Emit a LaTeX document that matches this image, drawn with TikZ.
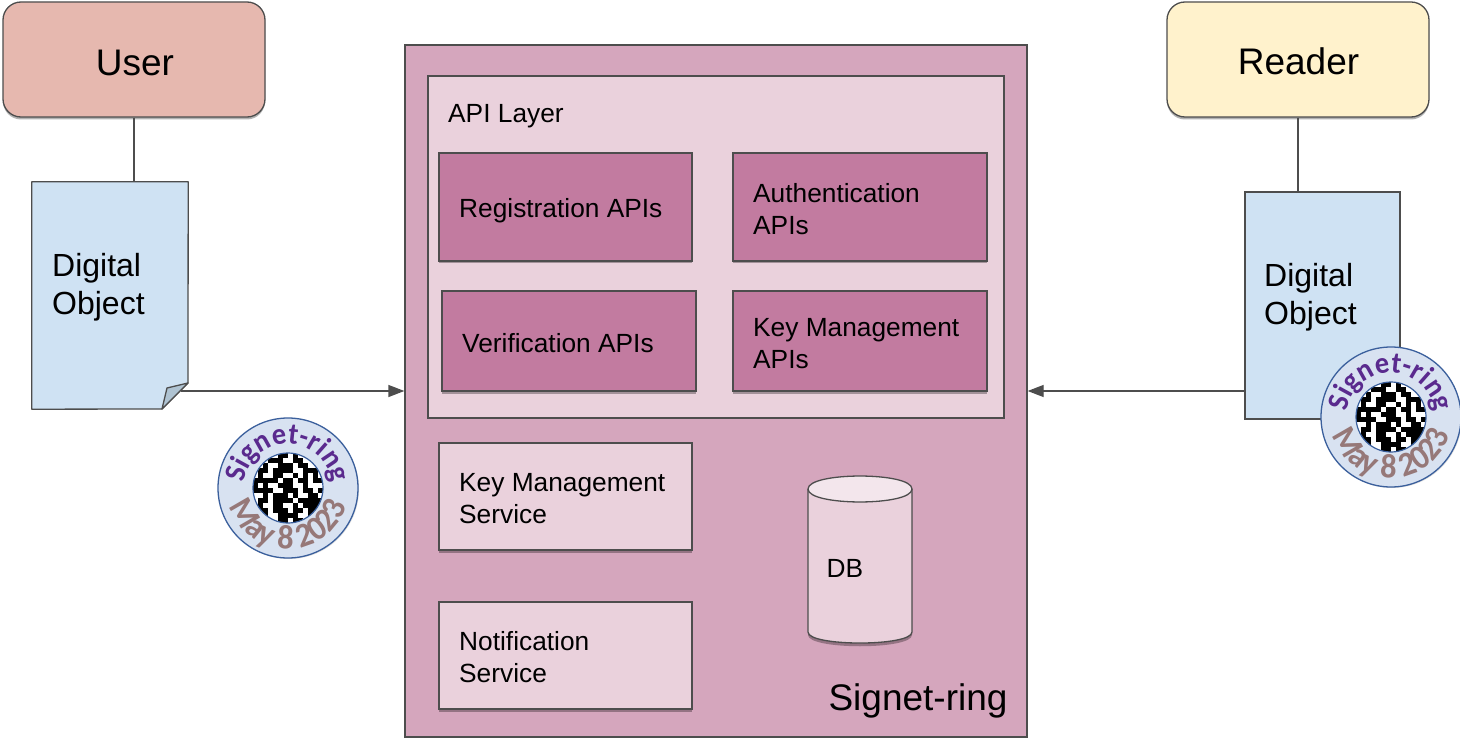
\documentclass[tikz,border=0pt]{standalone}
\usepackage{fontspec}
\setmainfont{Liberation Sans}
\newfontfamily\badgefont[FakeStretch=0.95]{Carlito Bold}
\usetikzlibrary{arrows.meta,shadows,decorations.text}
\definecolor{outerpink}{HTML}{D5A6BD}
\definecolor{lightpink}{HTML}{EAD1DC}
\definecolor{darkpink}{HTML}{C27BA0}
\definecolor{docblue}{HTML}{CFE2F3}
\definecolor{userred}{HTML}{E6B8AF}
\definecolor{readeryellow}{HTML}{FFF2CC}
\definecolor{edge}{HTML}{4D4D4D}
\definecolor{foldblue}{HTML}{AFC3D2}
\definecolor{ringblue}{HTML}{3A5F9C}
\definecolor{ringfill}{HTML}{D8E2F1}
\definecolor{ringpurple}{HTML}{5A2A8E}
\definecolor{ringgray}{HTML}{967878}
\newcommand{\fsz}[2]{\fontsize{#1}{#2}\selectfont}
\newcommand{\ringbadge}[1]{%
 \begin{scope}[shift={(#1)},x=1pt,y=1pt]
  \fill[black!25,opacity=.5] (1,-1) circle (70);
  \draw[ringblue,line width=1.3pt,fill=ringfill] (0,0) circle (70);
  \begin{scope}
   \clip (0,0) circle (35);
   \fill[white] (-35,-35) rectangle (35,35);
   \foreach \rw [count=\j from 0] in {
    {0,0,0,0,0,1,1,0,1,0,0,0,0,0},
    {0,0,0,1,1,1,0,0,1,1,0,0,0,0},
    {0,0,1,0,0,1,1,1,0,1,1,0,0,0},
    {0,1,1,0,1,1,1,1,0,0,1,1,1,0},
    {0,1,0,0,1,1,0,0,1,0,1,0,1,0},
    {1,1,1,1,1,0,1,1,0,1,1,0,1,1},
    {1,0,1,0,0,1,1,1,0,0,1,0,0,0},
    {1,1,1,1,0,0,1,1,1,0,1,1,0,1},
    {0,0,1,0,1,1,1,0,1,0,0,1,1,0},
    {0,1,1,0,1,1,1,1,0,1,1,1,1,1},
    {0,1,0,0,1,1,0,0,1,0,1,1,1,1},
    {0,1,1,0,1,1,1,0,1,1,0,1,1,1},
    {0,0,1,0,0,1,1,1,1,0,0,1,1,0},
    {0,0,0,0,0,1,1,0,1,1,0,0,0,0}}{%
     \foreach \cell [count=\i from 0] in \rw {%
      \ifnum\cell=1
       \fill[black] ({-35+5*\i},{35-5*\j}) rectangle ++(5.1,-5.1);
      \fi}}
  \end{scope}
  \draw[ringblue,line width=1.2pt] (0,0) circle (35);
  \path[decorate,decoration={text along path,text align={align=center},
    text={|\badgefont\fsz{30}{30}\color{ringpurple}|Signet-ring}}]
    (-43.8,3.8) arc (175:5:44);
  \path[decorate,decoration={text along path,text align={align=center},
    text={|\badgefont\fsz{34}{34}\color{ringgray}|May 8 2023}}]
    (-60.5,-8) arc (187.5:352.5:61);
 \end{scope}}
\tikzset{
 x=1pt,y=-1pt,
 softshadow/.style={drop shadow={shadow xshift=0pt,shadow yshift=-2.5pt,opacity=.3,fill=black}},
 box/.style={draw=edge,line width=1.3pt,rectangle,inner sep=0pt,softshadow},
 lightbox/.style={box,fill=lightpink},
 darkbox/.style={box,fill=darkpink},
 boxtext/.style={inner sep=0pt,anchor=west,align=left,font=\fsz{26.3}{32}},
 actor/.style={draw=edge,line width=1.3pt,rounded corners=18pt,minimum width=262pt,minimum height=115pt,softshadow},
 actortext/.style={inner sep=0pt,font=\fsz{37}{37}},
 doctext/.style={align=left,anchor=west,inner sep=0pt,font=\fsz{32}{38}},
 link/.style={draw=edge,line width=1.3pt},
 flow/.style={link,-{Triangle[length=16pt,width=12pt]}},
}
\begin{document}
\begin{tikzpicture}
\useasboundingbox (0,0) rectangle (1460,738);
\fill[white] (0,0) rectangle (1460,738);
\node[actor,fill=userred] (user) at (134,59.5) {};
\node[actortext] (usertext) at (135,63) {User};
\node[actor,fill=readeryellow] (reader) at (1298,59.5) {};
\node[actortext] (readertext) at (1298.5,61.5) {Reader};
% main
\node[draw=edge,line width=1.3pt,fill=outerpink,minimum width=622pt,minimum height=692pt,inner sep=0pt,drop shadow={shadow xshift=0pt,shadow yshift=-1.5pt,opacity=.3,fill=black}] (main) at (716,391) {};
\node[draw=edge,line width=1.3pt,fill=lightpink,minimum width=576pt,minimum height=342pt,inner sep=0pt] (api) at (716,247) {};
\node[anchor=base west,inner sep=0pt,font=\fsz{26.3}{32}] (apilabel) at (448,123) {API Layer};
\node[darkbox,minimum width=253pt,minimum height=108pt] (reg) at (565.5,207) {};
\node[boxtext] (regtext) at (459,211) {Registration APIs};
\node[darkbox,minimum width=254pt,minimum height=108pt] (auth) at (860,207) {};
\node[boxtext] (authtext) at (753,209) {Authentication\\APIs};
\node[darkbox,minimum width=254pt,minimum height=100pt] (ver) at (569,341) {};
\node[boxtext] (vertext) at (462,343) {Verification APIs};
\node[darkbox,minimum width=254pt,minimum height=100pt] (keyapi) at (860,341) {};
\node[boxtext] (keyapitext) at (753,344) {Key Management\\APIs};
\node[lightbox,minimum width=253pt,minimum height=107pt] (keysvc) at (565.5,496.5) {};
\node[boxtext] (keysvctext) at (459,499) {Key Management\\Service};
\node[lightbox,minimum width=253pt,minimum height=107pt] (notif) at (565.5,655.5) {};
\node[boxtext] (notiftext) at (459,657) {Notification\\Service};
% database
\node[minimum width=104pt,minimum height=167pt,inner sep=0pt] (db) at (860,559.5) {};
\fill[black,opacity=.3] (808,492) -- (808,635) .. controls (808,650) and (912,650) .. (912,635) -- (912,492) -- cycle;
\draw[edge,line width=1.3pt,fill=lightpink] (808,489) -- (808,632) .. controls (808,646.7) and (912,646.7) .. (912,632) -- (912,489);
\draw[edge,line width=1.3pt,fill=lightpink!55!white] (808,489) .. controls (808,471.7) and (912,471.7) .. (912,489) .. controls (912,506.3) and (808,506.3) .. (808,489) -- cycle;
\node[inner sep=0pt,font=\fsz{26.3}{32}] (dblabel) at (845,568.5) {DB};
\node[inner sep=0pt,font=\fsz{37}{37}] (mainlabel) at (918,701) {Signet-ring};
% user document
\node[minimum width=156pt,minimum height=227pt,inner sep=0pt] (udoc) at (110,295.5) {};
\coordinate (ufold) at (181,391);
\draw[draw=edge,line width=1.3pt,fill=docblue,line join=round] (udoc.north west) -- (udoc.north east) -- (188,383) -- (162,409) -- (udoc.south west) -- cycle;
\draw[draw=edge,line width=1.3pt,fill=foldblue,line join=round] (188,383) -- (167,388) -- (162,409) -- cycle;
\node[doctext] (utext) at (52,287.5) {Digital\\Object};
% reader document
\node[draw=edge,line width=1.3pt,fill=docblue,minimum width=155pt,minimum height=227pt,inner sep=0pt] (rdoc) at (1322.5,305.5) {};
\node[doctext] (rtext) at (1264,297.5) {Digital\\Object};
% connectors
\draw[link] (user.south) -- (user.south |- udoc.north);
\draw[link] (reader.south) -- (reader.south |- rdoc.north);
\draw[flow] (ufold) -- (ufold -| main.west);
\coordinate (rout) at (rdoc.west |- ufold);
\draw[flow] (rout) -- (rout -| main.east);
% badges
\ringbadge{288,488}
\ringbadge{1391,417}
\end{tikzpicture}
\end{document}
